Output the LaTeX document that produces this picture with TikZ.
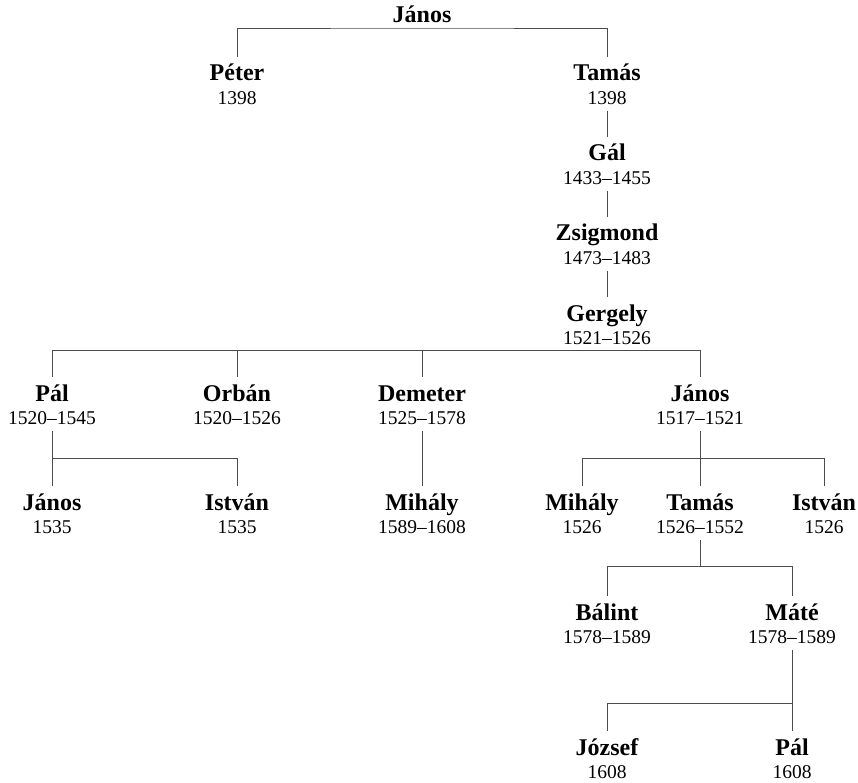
\documentclass[tikz,border=0pt]{standalone}
\usepackage{fontspec}
\setmainfont{Liberation Serif}
\usetikzlibrary{positioning,calc}

\begin{document}
\begin{tikzpicture}[x=1pt,y=-1pt,
person/.style={font=\bfseries\fontsize{24}{28}\selectfont, inner sep=0pt,
    text height=24pt, text depth=4.8pt, anchor=base},
years/.style={font=\fontsize{19.5}{23}\selectfont, inner sep=0pt,
    text height=14pt, text depth=5.5pt, below=4.7pt of #1},
branch/.style={draw=black!70, line width=0.9pt}]
\useasboundingbox (0,0) rectangle (858,783);

% generations
\node[person] (janos0) at (422,23) {János};
\node[person] (peter) at (237,81) {Péter};
\node[years=peter] (petery) {1398};
\node[person] (tamas1) at (607,81) {Tamás};
\node[years=tamas1] (tamas1y) {1398};
\node[person] (gal) at (607,161) {Gál};
\node[years=gal] (galy) {1433–1455};
\node[person] (zsigmond) at (607,241) {Zsigmond};
\node[years=zsigmond] (zsigmondy) {1473–1483};
\node[person] (gergely) at (607,321) {Gergely};
\node[years=gergely] (gergelyy) {1521–1526};
\node[person] (pal5) at (52,401) {Pál};
\node[years=pal5] (pal5y) {1520–1545};
\node[person] (orban) at (237,401) {Orbán};
\node[years=orban] (orbany) {1520–1526};
\node[person] (demeter) at (422,401) {Demeter};
\node[years=demeter] (demetery) {1525–1578};
\node[person] (janos5) at (700,401) {János};
\node[years=janos5] (janos5y) {1517–1521};
\node[person] (janos6) at (52,510) {János};
\node[years=janos6] (janos6y) {1535};
\node[person] (istvan6) at (237,510) {István};
\node[years=istvan6] (istvan6y) {1535};
\node[person] (mihaly6) at (422,510) {Mihály};
\node[years=mihaly6] (mihaly6y) {1589–1608};
\node[person] (mihaly7) at (582,510) {Mihály};
\node[years=mihaly7] (mihaly7y) {1526};
\node[person] (tamas6) at (700,510) {Tamás};
\node[years=tamas6] (tamas6y) {1526–1552};
\node[person] (istvan7) at (824,510) {István};
\node[years=istvan7] (istvan7y) {1526};
\node[person] (balint) at (607,620) {Bálint};
\node[years=balint] (balinty) {1578–1589};
\node[person] (mate) at (792,620) {Máté};
\node[years=mate] (matey) {1578–1589};
\node[person] (jozsef) at (607,755) {József};
\node[years=jozsef] (jozsefy) {1608};
\node[person] (pal8) at (792,755) {Pál};
\node[years=pal8] (pal8y) {1608};

% joints
\coordinate (palJ) at ($(pal5y.south)!.5!(janos6.north)$);
\coordinate (janosJ) at ($(janos5y.south)!.5!(tamas6.north)$);
\coordinate (tamasJ) at ($(tamas6y.south)!.48!(tamas6y.south |- balint.north)$);
\coordinate (mateJ) at ($(matey.south)!.66!(pal8.north)$);

% lines
\draw[branch] (peter.north) |- (janos0.south) -| (tamas1.north);
\draw[branch] (tamas1y.south) -- (gal.north);
\draw[branch] (galy.south) -- (zsigmond.north);
\draw[branch] (zsigmondy.south) -- (gergely.north);
\draw[branch] (pal5.north) |- (gergelyy.south) -| (janos5.north);
\draw[branch] (orban.north) -- (orban.north |- gergelyy.south);
\draw[branch] (demeter.north) -- (demeter.north |- gergelyy.south);
\draw[branch] (pal5y.south) -- (janos6.north);
\draw[branch] (palJ) -| (istvan6.north);
\draw[branch] (demetery.south) -- (mihaly6.north);
\draw[branch] (janos5y.south) -- (tamas6.north);
\draw[branch] (mihaly7.north) |- (janosJ) -| (istvan7.north);
\draw[branch] (tamas6y.south) -- (tamasJ);
\draw[branch] (balint.north) |- (tamasJ) -| (mate.north);
\draw[branch] (matey.south) -- (pal8.north);
\draw[branch] (mateJ) -| (jozsef.north);
\end{tikzpicture}
\end{document}
